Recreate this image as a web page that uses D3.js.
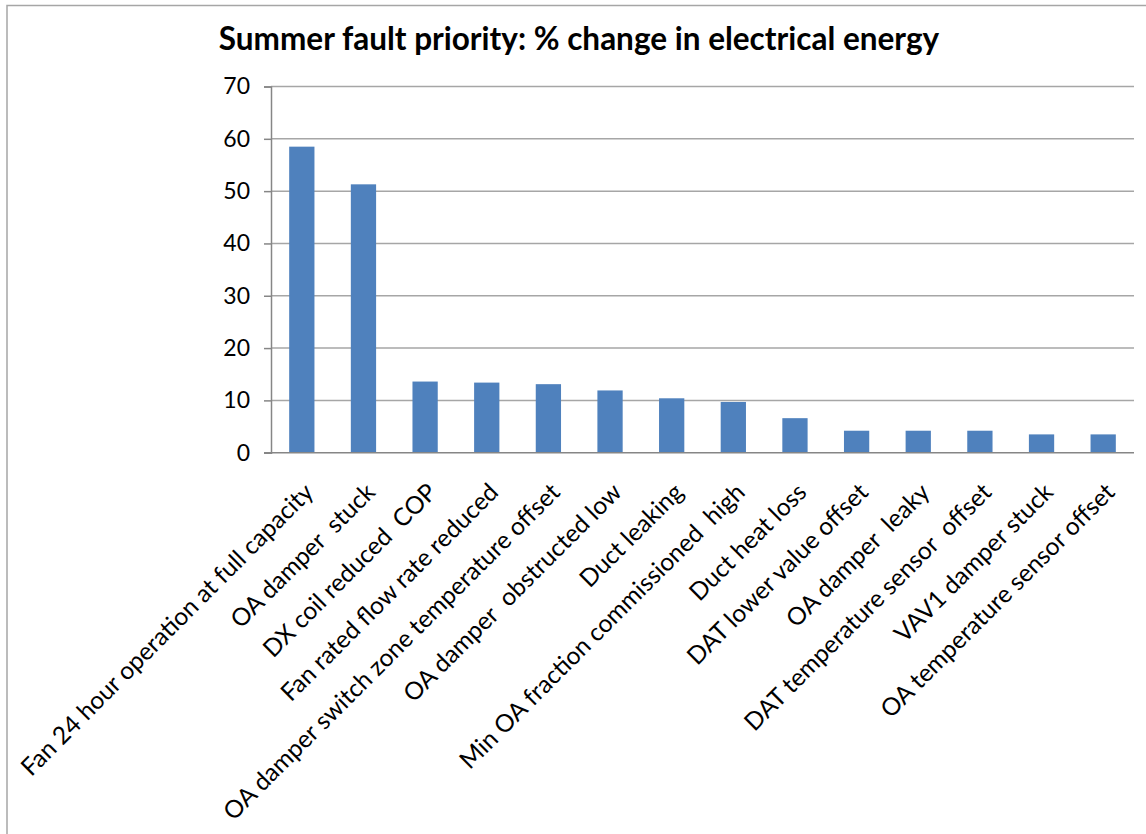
<!DOCTYPE html>
<html>
<head>
<meta charset="utf-8">
<script src="https://cdn.jsdelivr.net/npm/d3@7"></script>
<style>
  html, body { margin: 0; padding: 0; background: #fff; }
  svg { display: block; font-family: Lato, "Open Sans", "Liberation Sans", sans-serif; }
</style>
</head>
<body>
<svg id="chart" width="1146" height="834"></svg>
<script>
// Fault categories, in priority order
const categories = [
  "Fan 24 hour operation at full capacity",
  "OA damper  stuck",
  "DX coil reduced  COP",
  "Fan rated flow rate reduced",
  "OA damper switch zone temperature offset",
  "OA damper  obstructed low",
  "Duct leaking",
  "Min OA fraction commissioned  high",
  "Duct heat loss",
  "DAT lower value offset",
  "OA damper  leaky",
  "DAT temperature sensor  offset",
  "VAV1 damper stuck",
  "OA temperature sensor offset"
];

// % change in electrical energy for each fault
const values = [58.5, 51.3, 13.6, 13.4, 13.1, 11.9, 10.4, 9.7, 6.6, 4.2, 4.2, 4.2, 3.5, 3.5];

// Value-axis ticks
const yTicks = [0, 10, 20, 30, 40, 50, 60, 70];

const chartTitle = "Summer fault priority: % change in electrical energy";

const svg = d3.select("#chart");
const W = 1146, H = 834;
const plot = { left: 271, right: 1134, top: 86.5, bottom: 452.7 };

// Outer chart frame (continues past the right and bottom edges)
svg.append("rect")
  .attr("x", 7).attr("y", 5.5)
  .attr("width", W + 20).attr("height", H + 20)
  .attr("fill", "#fff")
  .attr("stroke", "#a6a6a6").attr("stroke-width", 1.5);

const x = d3.scaleBand()
  .domain(categories)
  .range([plot.left, plot.right])
  .paddingInner(0.59)
  .paddingOuter(0.295);

const y = d3.scaleLinear()
  .domain([0, 70])
  .range([plot.bottom, plot.top]);

// Horizontal gridlines
svg.append("g")
  .selectAll("line")
  .data(yTicks.filter(d => d > 0))
  .join("line")
  .attr("x1", plot.left).attr("x2", plot.right)
  .attr("y1", d => y(d)).attr("y2", d => y(d))
  .attr("stroke", "#a6a6a6").attr("stroke-width", 1.5);

// Value axis
const yAxis = svg.append("g")
  .attr("transform", `translate(${plot.left},0)`)
  .call(d3.axisLeft(y).tickValues(yTicks).tickSize(7).tickPadding(14).tickFormat(d3.format("d")));
yAxis.select(".domain").attr("stroke", "#868686").attr("stroke-width", 1.5);
yAxis.selectAll(".tick line").attr("stroke", "#868686").attr("stroke-width", 1.5);
yAxis.selectAll(".tick text")
  .attr("fill", "#000")
  .style("font-size", "23px")
  .style("font-family", "Lato, 'Open Sans', sans-serif");

// Bars
svg.append("g")
  .selectAll("rect")
  .data(values)
  .join("rect")
  .attr("x", (d, i) => x(categories[i]))
  .attr("width", x.bandwidth())
  .attr("y", d => y(d))
  .attr("height", d => y(0) - y(d))
  .attr("fill", "#4f81bd");

// Category axis line
svg.append("line")
  .attr("x1", plot.left - 7).attr("x2", plot.right)
  .attr("y1", plot.bottom).attr("y2", plot.bottom)
  .attr("stroke", "#868686").attr("stroke-width", 1.5);

// Rotated category labels
svg.append("g")
  .selectAll("text")
  .data(categories)
  .join("text")
  .attr("transform", d => `translate(${x(d) + x.bandwidth() / 2 - 6},${plot.bottom + 22}) rotate(-45)`)
  .attr("text-anchor", "end")
  .attr("dy", "1.1em")
  .style("font-size", "24.5px")
  .style("white-space", "pre")
  .attr("fill", "#000")
  .text(d => d);

// Title
svg.append("text")
  .attr("x", 579).attr("y", 50)
  .attr("text-anchor", "middle")
  .style("font-size", "31.5px")
  .style("font-weight", "bold")
  .attr("fill", "#000")
  .text(chartTitle);
</script>
</body>
</html>
